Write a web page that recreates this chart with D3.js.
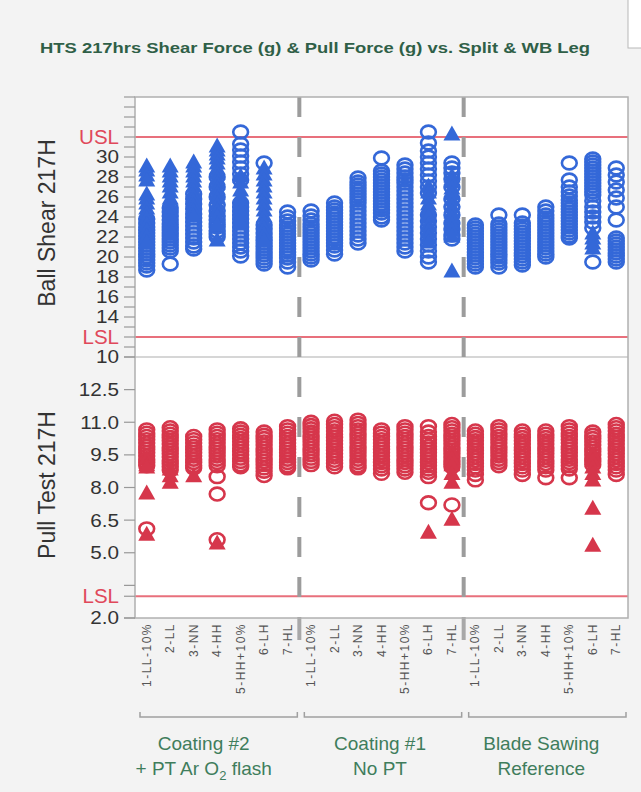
<!DOCTYPE html>
<html><head><meta charset="utf-8">
<script src="https://cdn.jsdelivr.net/npm/d3@7"></script>
<style>
html,body{margin:0;padding:0;background:#f3f3f3;}
svg{display:block;}
</style></head><body>
<svg id="chart" width="641" height="792"></svg>
<script>
// ---------------- DATA ----------------
const titleText = "HTS 217hrs Shear Force (g) & Pull Force (g) vs. Split & WB Leg";
const legs = ["1-LL-10%","2-LL","3-NN","4-HH","5-HH+10%","6-LH","7-HL"];
const groupLine1 = ["Coating #2","Coating #1","Blade Sawing"];
const groupLine2 = [["+ PT Ar O","2"," flash"],["No PT"],["Reference"]];

const shearTitle = "Ball Shear 217H";
const pullTitle = "Pull Test 217H";
const shearUSL = 32, shearLSL = 12, pullLSL = 3;
const shearTickLabels = [10,14,16,18,20,22,24,26,28,30];
const shearMinorTicks = [11,13,15,17,19,21,23,25,27,29,31,33,34,35,36];
const pullTickLabels = [2.0,5.0,6.5,8.0,9.5,11.0,12.5];
const pullMinorTicks = [3.5,14];

// Ball shear: open circles, per category (Coating#2 x7, Coating#1 x7, Blade Sawing x7)
const shearCircles = [
  [18.7,19.1,19.4,19.7,20.0,20.3,20.6,20.9,21.2,21.5,21.8,22.1,22.4,22.7,23.0,23.4,23.8],
  [19.3,20.6,20.9,21.2,21.5,21.8,22.1,22.4,22.7,23.0,23.3,23.7,24.1,24.5,24.9],
  [20.8,21.1,21.5,21.9,22.3,22.7,23.1,23.5,23.9,24.3,24.8,25.3,25.8,26.3],
  [22.0,22.3,22.6,23.0,23.3,23.7,24.1,24.6,25.2,26.0,27.0,28.0],
  [32.5,31.3,30.7,30.1,29.5,28.9,28.3,27.7,25.4,25.0,24.6,24.2,23.8,23.4,23.0,22.6,22.2,21.8,21.4,21.0,20.6,20.1],
  [29.4,23.2,22.8,22.4,22.0,21.7,21.4,21.1,20.8,20.5,20.2,19.9,19.6,19.3],
  [24.5,24.0,23.6,23.2,22.9,22.6,22.3,22.0,21.7,21.4,21.1,20.8,20.5,20.2,19.9,19.5,19.0],
  [24.6,24.1,23.7,23.3,23.0,22.7,22.4,22.1,21.8,21.5,21.2,20.9,20.6,20.3,20.0,19.7],
  [25.4,25.0,24.7,24.4,24.1,23.8,23.5,23.2,22.9,22.6,22.3,22.0,21.7,21.4,21.1,20.7,20.3],
  [27.9,27.5,27.2,26.9,26.6,26.3,26.0,25.7,25.4,25.0,24.6,24.2,23.8,23.4,23.0,22.6,22.2,21.8,21.4],
  [29.9,28.6,28.3,28.0,27.7,27.4,27.1,26.8,26.5,26.2,25.9,25.6,25.3,25.0,24.7,24.4,24.0,23.7],
  [29.2,28.8,28.4,28.0,27.7,27.4,27.0,26.6,26.2,25.8,25.4,25.0,24.6,24.2,23.8,23.4,23.0,22.6,22.2,21.8,21.4,21.0,20.6],
  [32.5,31.4,30.6,30.0,29.4,28.8,28.2,27.6,27.0,26.4,24.2,23.6,23.0,22.4,21.8,21.2,20.6,20.0,19.5],
  [29.4,28.9,28.4,27.8,27.0,25.8,25.0,24.2,23.4,22.8,22.2,21.8],
  [23.2,22.9,22.6,22.3,22.0,21.7,21.4,21.1,20.8,20.5,20.2,19.9,19.6,19.3,19.0],
  [24.2,23.3,23.0,22.7,22.4,22.1,21.8,21.5,21.2,20.9,20.6,20.3,20.0,19.7,19.4,19.0],
  [24.2,23.4,23.1,22.8,22.5,22.2,21.9,21.6,21.3,21.0,20.7,20.4,20.1,19.8,19.5,19.2],
  [25.0,24.6,24.2,23.9,23.6,23.3,23.0,22.7,22.4,22.1,21.8,21.5,21.2,20.9,20.6,20.3,20.0],
  [29.4,27.7,27.0,26.5,26.1,25.7,25.4,25.1,24.8,24.5,24.2,23.9,23.6,23.3,23.0,22.7,22.4,22.1,21.9],
  [29.8,29.5,29.2,28.9,28.6,28.3,28.0,27.7,27.4,27.1,26.8,26.5,26.2,25.6,25.0,24.5,24.0,23.5,22.9,19.5],
  [28.9,28.2,27.5,26.7,25.9,25.0,23.7,21.9,21.6,21.3,21.0,20.7,20.4,20.1,19.8,19.5]
];
// Ball shear: filled triangles
const shearTriangles = [
  [29.0,28.6,28.1,27.6,26.2,25.8,25.3,24.8,24.3,23.8,23.2,22.6,22.0,21.4],
  [29.0,28.5,28.0,27.5,27.0,26.4,25.8,25.2,24.6,24.0,23.4,22.8,22.2],
  [29.4,29.0,28.5,28.0,27.5,27.0,26.5,26.0,25.5,25.0,24.5,24.0],
  [31.0,30.6,30.2,29.8,29.3,28.8,28.3,27.8,27.3,26.8,26.3,25.8,25.2,24.6,24.0,23.2,21.6],
  [28.0,27.4,26.6,26.0,25.5,25.0,24.5,24.0,23.4],
  [28.8,28.2,27.6,27.0,26.4,25.8,25.2,24.6,24.0,23.4,22.8,22.2,21.6],
  [],
  [],[],[],[],[],
  [27.0,26.4,25.8,25.2,24.6,24.0,23.2,22.6,22.0,21.4],
  [32.2,28.0,27.4,26.8,26.2,25.6,25.0,24.4,23.8,23.2,22.6,22.0,18.5],
  [],[],[],[],[],
  [22.3,21.8,21.3,20.8],
  []
];
// Pull test: open circles
const pullCircles = [
  [10.65,10.5,10.35,10.2,10.05,9.9,9.75,9.6,9.45,9.3,9.15,9.0,6.1],
  [10.75,10.6,10.45,10.3,10.15,10.0,9.85,9.7,9.55,9.4,9.25,9.1,8.95,8.8],
  [10.35,10.2,10.05,9.9,9.75,9.6,9.45,9.3,9.15,9.0,8.9],
  [10.65,10.5,10.35,10.2,10.05,9.9,9.75,9.6,9.45,9.3,9.15,9.0,8.5,7.7,5.6],
  [10.7,10.55,10.4,10.25,10.1,9.95,9.8,9.65,9.5,9.35,9.2,9.05,8.95],
  [10.55,10.4,10.25,10.1,9.95,9.8,9.65,9.5,9.35,9.2,9.05,8.9,8.75,8.55],
  [10.8,10.65,10.5,10.35,10.2,10.05,9.9,9.75,9.6,9.45,9.3,9.15,9.0,8.9],
  [11.0,10.85,10.7,10.55,10.4,10.25,10.1,9.95,9.8,9.65,9.5,9.35,9.2,9.05],
  [11.05,10.9,10.75,10.6,10.45,10.3,10.15,10.0,9.85,9.7,9.55,9.4,9.25,9.1,8.95],
  [11.1,10.95,10.8,10.65,10.5,10.35,10.2,10.05,9.9,9.75,9.6,9.45,9.3,9.15,9.0,8.9],
  [10.65,10.5,10.35,10.2,10.05,9.9,9.75,9.6,9.45,9.3,9.15,9.0,8.85,8.65],
  [10.8,10.65,10.5,10.35,10.2,10.05,9.9,9.75,9.6,9.45,9.3,9.15,9.0,8.85,8.7],
  [10.8,10.55,10.35,10.2,10.05,9.9,9.75,9.6,9.45,9.3,9.15,9.0,8.85,8.7,8.5,7.3],
  [10.9,10.75,10.6,10.45,10.3,10.15,10.0,9.85,9.7,9.55,9.4,9.25,9.1,8.95,7.2],
  [10.6,10.45,10.3,10.15,10.0,9.85,9.7,9.55,9.4,9.25,9.1,8.95,8.8,8.6,8.35],
  [10.8,10.65,10.5,10.35,10.2,10.05,9.9,9.75,9.6,9.45,9.3,9.15,9.0],
  [10.6,10.45,10.3,10.15,10.0,9.85,9.7,9.55,9.4,9.25,9.1,8.95,8.8,8.6],
  [10.6,10.45,10.3,10.15,10.0,9.85,9.7,9.55,9.4,9.25,9.1,8.95,8.8,8.45],
  [10.8,10.65,10.5,10.35,10.2,10.05,9.9,9.75,9.6,9.45,9.3,9.15,9.0,8.85,8.45],
  [10.55,10.4,10.25,10.1,9.95,9.8,9.65,9.5,9.35,9.2,9.05],
  [10.9,10.75,10.6,10.45,10.3,10.15,10.0,9.85,9.7,9.55,9.4,9.25,9.1,8.95,8.8,8.6]
];
// Pull test: filled triangles
const pullTriangles = [
  [9.3,9.0,8.9,7.7,5.8],
  [8.8,8.5,8.2],
  [8.5],
  [5.4],
  [],[],[],
  [],[],[],[],[],
  [5.9],
  [9.6,9.3,9.0,8.6,8.2,6.5],
  [],[],[],[],[],
  [9.5,9.2,8.9,8.6,8.3,7.0,5.3],
  []
];

// ---------------- LAYOUT ----------------
const W = 641, H = 792;
const plotL = 135, plotR = 628, plotT = 97, plotMid = 357, plotB = 618;
const blue = "#3468d8", red = "#d6364b", specCol = "#e8707c", green = "#3f7d5c";
const groupLabelDx = [-15, -3, -6];

const svg = d3.select("#chart");
svg.append("rect").attr("width", W).attr("height", H).attr("fill", "#f3f3f3");

// top-right white box
svg.append("rect").attr("x", 628).attr("y", -1).attr("width", 20).attr("height", 49)
  .attr("fill", "#fff").attr("stroke", "#b8b8b8").attr("stroke-width", 1);

// title
svg.append("text").attr("x", 40).attr("y", 53)
  .attr("textLength", 550).attr("lengthAdjust", "spacingAndGlyphs")
  .attr("font-family", "'Liberation Sans Narrow','Liberation Sans',Arial,sans-serif")
  .attr("font-weight", "bold").attr("font-size", 15.5).attr("fill", "#2f5f47")
  .text(titleText);

const cats = [];
groupLine1.forEach((g, gi) => legs.forEach(l => cats.push(gi + "|" + l)));
const x = d3.scaleBand().domain(cats).range([plotL, plotR]);
const yTop = d3.scaleLinear().domain([10, 36]).range([plotMid, plotT]);
const yBot = d3.scaleLinear().domain([2, 14]).range([plotB, plotMid]);

// plot background
svg.append("rect").attr("x", plotL).attr("y", plotT).attr("width", plotR - plotL).attr("height", plotB - plotT)
  .attr("fill", "#fff");

// spec lines
function hline(y, col) {
  svg.append("line").attr("x1", plotL).attr("x2", plotR).attr("y1", y).attr("y2", y)
    .attr("stroke", col).attr("stroke-width", 2);
}
hline(yTop(shearUSL), specCol);
hline(yTop(shearLSL), specCol);
hline(yBot(pullLSL), specCol);

// markers
const triPath = "M0,-9.5L8.5,5.5L-8.5,5.5Z";
function drawMarkers(circData, triData, y, col) {
  const g = svg.append("g");
  cats.forEach((c, i) => {
    const cx = x(c) + x.bandwidth() / 2;
    g.selectAll(null).data(circData[i]).enter().append("ellipse")
      .attr("cx", cx).attr("cy", d => y(d)).attr("rx", 7.4).attr("ry", 6.4)
      .attr("fill", "none").attr("stroke", col).attr("stroke-width", 2.6);
  });
  cats.forEach((c, i) => {
    const cx = x(c) + x.bandwidth() / 2;
    g.selectAll(null).data(triData[i]).enter().append("path")
      .attr("d", triPath).attr("transform", d => `translate(${cx},${y(d)})`)
      .attr("fill", col);
  });
}
drawMarkers(shearCircles, shearTriangles, yTop, blue);
drawMarkers(pullCircles, pullTriangles, yBot, red);

// panel divider
svg.append("line").attr("x1", plotL).attr("x2", plotR).attr("y1", plotMid).attr("y2", plotMid)
  .attr("stroke", "#c8c8c8").attr("stroke-width", 1.5);

// group separators (dashed)
[1, 2].forEach(gi => {
  const xs = x(gi + "|" + legs[0]);
  svg.append("line").attr("x1", xs).attr("x2", xs).attr("y1", plotT).attr("y2", plotB)
    .attr("stroke", "#9c9c9c").attr("stroke-width", 4).attr("stroke-dasharray", "20,20");
  svg.append("line").attr("x1", xs).attr("x2", xs).attr("y1", plotB).attr("y2", plotB + 22)
    .attr("stroke", "#a8a8a8").attr("stroke-width", 4);
});

// frame
svg.append("rect").attr("x", plotL).attr("y", plotT).attr("width", plotR - plotL).attr("height", plotB - plotT)
  .attr("fill", "none").attr("stroke", "#b0b0b0").attr("stroke-width", 1.5);

// y axes
function yAxis(scale, labels, minor, fmt, specs) {
  const g = svg.append("g").attr("transform", `translate(${plotL},0)`);
  const allTicks = labels.concat(minor).concat(specs.map(s => s.v));
  g.selectAll(null).data(allTicks).enter().append("line")
    .attr("x1", -11).attr("x2", 0).attr("y1", d => scale(d)).attr("y2", d => scale(d))
    .attr("stroke", "#999").attr("stroke-width", 1.2);
  g.selectAll(null).data(labels).enter().append("text")
    .attr("x", -14).attr("y", d => scale(d)).attr("dy", "0.36em")
    .attr("transform", "scale(1.15,1)")
    .attr("text-anchor", "end").attr("font-family", "'Liberation Sans',Arial,sans-serif")
    .attr("font-size", 18).attr("fill", "#333").text(fmt);
  g.selectAll(null).data(specs).enter().append("text")
    .attr("x", -16).attr("y", d => scale(d.v)).attr("dy", "0.35em")
    .attr("text-anchor", "end").attr("font-family", "'Liberation Sans',Arial,sans-serif")
    .attr("font-size", 20.5).attr("fill", "#e0485a").text(d => d.t);
}
yAxis(yTop, shearTickLabels, shearMinorTicks, d3.format("d"), [{v: shearUSL, t: "USL"}, {v: shearLSL, t: "LSL"}]);
yAxis(yBot, pullTickLabels, pullMinorTicks, d3.format(".1f"), [{v: pullLSL, t: "LSL"}]);
// extend bottom axis line a bit left
svg.append("line").attr("x1", 124).attr("x2", plotL).attr("y1", plotB).attr("y2", plotB)
  .attr("stroke", "#999").attr("stroke-width", 1.2);

// y titles
function yTitle(t, cy) {
  svg.append("text").attr("transform", `translate(55,${cy}) rotate(-90)`)
    .attr("text-anchor", "middle").attr("font-family", "'Liberation Sans',Arial,sans-serif")
    .attr("font-size", 23).attr("fill", "#333").text(t);
}
yTitle(shearTitle, 223);
yTitle(pullTitle, 485);

// category labels
cats.forEach(c => {
  const cx = x(c) + x.bandwidth() / 2;
  svg.append("text").attr("transform", `translate(${cx + 4},${plotB + 5}) rotate(-90)`)
    .attr("text-anchor", "end").attr("font-family", "'Liberation Sans',Arial,sans-serif")
    .attr("font-size", 12).attr("letter-spacing", 1.5).attr("fill", "#555")
    .text(c.split("|")[1]);
});

// group brackets + labels
groupLine1.forEach((gname, gi) => {
  const x0 = x(gi + "|" + legs[0]) + 5;
  const x1 = x(gi + "|" + legs[legs.length - 1]) + x.bandwidth() - 2;
  svg.append("path").attr("d", `M${x0},712V717H${x1}V712`)
    .attr("fill", "none").attr("stroke", "#a0a0a0").attr("stroke-width", 1.5);
  const cx = (x0 + x1) / 2 + groupLabelDx[gi];
  svg.append("text").attr("x", cx).attr("y", 750).attr("text-anchor", "middle")
    .attr("font-family", "'Liberation Sans',Arial,sans-serif").attr("font-size", 19)
    .attr("fill", green).text(gname);
  const t2 = svg.append("text").attr("x", cx).attr("y", 775).attr("text-anchor", "middle")
    .attr("font-family", "'Liberation Sans',Arial,sans-serif").attr("font-size", 19)
    .attr("fill", green);
  groupLine2[gi].forEach((part, pi) => {
    const ts = t2.append("tspan").text(part);
    if (groupLine2[gi].length === 3 && pi === 1) ts.attr("font-size", 13).attr("dy", 5);
    if (groupLine2[gi].length === 3 && pi === 2) ts.attr("dy", -5);
  });
});
</script>
</body></html>
